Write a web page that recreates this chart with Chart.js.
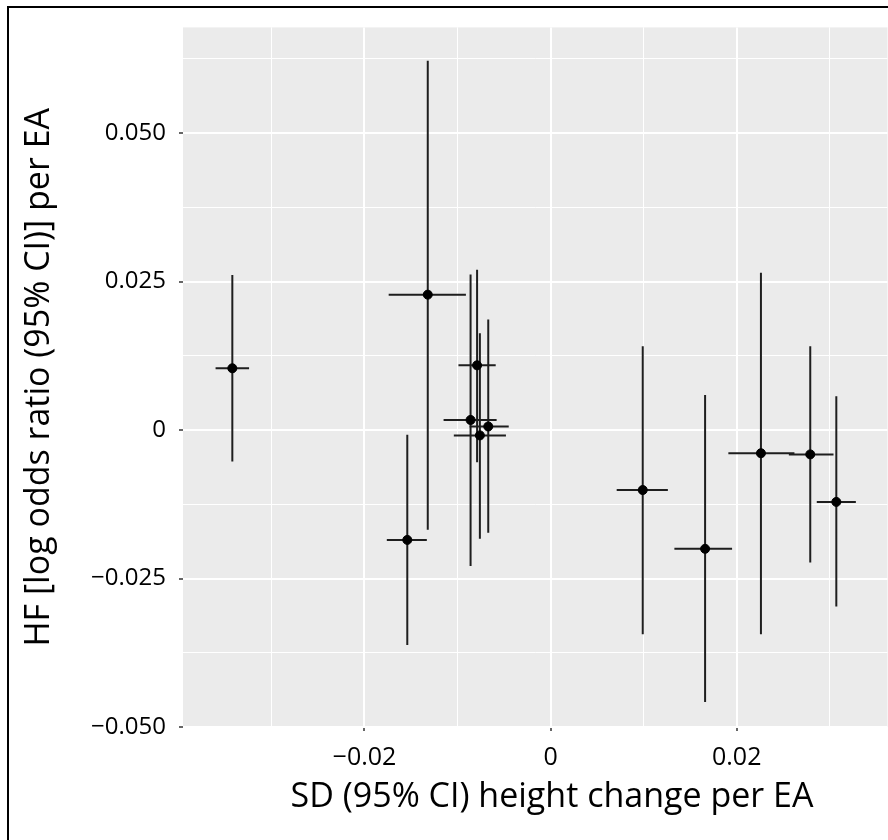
<!DOCTYPE html>
<html>
<head>
<meta charset="utf-8">
<script src="https://cdn.jsdelivr.net/npm/chart.js@4"></script>
<style>
  html, body { margin: 0; padding: 0; background: #fff; overflow: hidden; }
  #frame { position: absolute; left: 7px; top: 6px; width: 900px; height: 900px;
           border-left: 2px solid #000; border-top: 2px solid #000; }
  #wrap { position: absolute; left: 0; top: 0; width: 893px; height: 840px; }
</style>
</head>
<body>
<div id="frame"></div>
<div id="wrap"><canvas id="chart"></canvas></div>
<script>
// -------------------- data ----------------------
var xEst = [-0.0342, -0.0132, -0.0154, -0.0079, -0.0086, -0.0067, -0.0076, 0.0099, 0.0166, 0.0226, 0.0279, 0.0307];
var xLo  = [-0.0360, -0.0174, -0.0176, -0.0099, -0.0115, -0.0087, -0.0104, 0.0071, 0.0133, 0.0191, 0.0256, 0.0286];
var xHi  = [-0.0324, -0.0091, -0.0133, -0.0059, -0.0058, -0.0045, -0.0048, 0.0126, 0.0195, 0.0262, 0.0304, 0.0328];
var yEst = [0.0104, 0.0228, -0.0185, 0.0109, 0.0017, 0.0006, -0.0009, -0.0101, -0.0200, -0.0039, -0.0041, -0.0121];
var yLo  = [-0.0053, -0.0168, -0.0362, -0.0054, -0.0229, -0.0173, -0.0183, -0.0344, -0.0458, -0.0344, -0.0223, -0.0297];
var yHi  = [0.0261, 0.0622, -0.0008, 0.0270, 0.0262, 0.0186, 0.0163, 0.0141, 0.0059, 0.0265, 0.0141, 0.0057];

var xTicks = [-0.03, -0.02, -0.01, 0, 0.01, 0.02, 0.03];
var xTickLabels = ['', '\u22120.02', '', '0', '', '0.02', ''];
var yTicks = [-0.05, -0.0375, -0.025, -0.0125, 0, 0.0125, 0.025, 0.0375, 0.05, 0.0625];
var yTickLabels = ['\u22120.050', '', '\u22120.025', '', '0', '', '0.025', '', '0.050', ''];

var xTitle = 'SD (95% CI) height change per EA';
var yTitle = 'HF [log odds ratio (95% CI)] per EA';

// segments, broken by null points
var vBars = [], hBars = [], points = [];
for (var i = 0; i < xEst.length; i++) {
    vBars.push({x: xEst[i], y: yLo[i]}, {x: xEst[i], y: yHi[i]}, {x: xEst[i], y: null});
    hBars.push({x: xLo[i], y: yEst[i]}, {x: xHi[i], y: yEst[i]}, {x: xHi[i], y: null});
    points.push({x: xEst[i], y: yEst[i]});
}

var panelBg = {
    id: 'panelBg',
    beforeDraw: function (chart) {
        var a = chart.chartArea, c = chart.ctx;
        c.save();
        c.fillStyle = '#EBEBEB';
        c.fillRect(a.left, a.top, a.right - a.left, a.bottom - a.top);
        c.restore();
    },
    afterDraw: function (chart) {
        // x title, a bit right of the panel centre like the original
        var c = chart.ctx;
        c.save();
        c.font = '34px "Open Sans"';
        c.fillStyle = '#000';
        c.textAlign = 'center';
        c.textBaseline = 'middle';
        c.fillText(xTitle, 552, 797);
        c.restore();
    }
};

function gridOpts(labels) {
    return {
        color: '#FFFFFF',
        lineWidth: function (c) { return labels[c.index] ? 2 : 1; },
        tickColor: function (c) { return labels[c.index] ? '#333333' : 'rgba(0,0,0,0)'; },
        tickWidth: 1.5,
        tickLength: 4,
        drawTicks: true
    };
}

var ctx = document.getElementById('chart');
var chart = new Chart(ctx, {
    type: 'scatter',
    data: {
        datasets: [{
            data: vBars,
            showLine: true,
            spanGaps: false,
            borderColor: '#1e1e1e',
            borderWidth: 2,
            pointRadius: 0,
            order: 2
        }, {
            data: hBars,
            showLine: true,
            spanGaps: false,
            borderColor: '#1e1e1e',
            borderWidth: 2,
            pointRadius: 0,
            order: 1
        }, {
            data: points,
            backgroundColor: '#000000',
            borderColor: '#000000',
            pointRadius: 4.5,
            order: 0
        }]
    },
    options: {
        responsive: true,
        maintainAspectRatio: false,
        animation: false,
        layout: { padding: { top: 26, right: 1, left: 0, bottom: 0 } },
        plugins: { legend: { display: false }, tooltip: { enabled: false } },
        scales: {
            x: {
                type: 'linear',
                min: -0.0395,
                max: 0.0362,
                afterBuildTicks: function (s) { s.ticks = xTicks.map(function (v) { return {value: v}; }); },
                afterFit: function (s) { s.height = 113; },
                grid: gridOpts(xTickLabels),
                border: { display: false },
                ticks: {
                    autoSkip: false,
                    maxRotation: 0,
                    padding: 12,
                    color: '#000',
                    font: { family: 'Open Sans', size: 25 },
                    callback: function (v, i) { return xTickLabels[i]; }
                }
            },
            y: {
                type: 'linear',
                min: -0.05,
                max: 0.0678,
                afterBuildTicks: function (s) { s.ticks = yTicks.map(function (v) { return {value: v}; }); },
                afterFit: function (s) { s.width = 183; },
                grid: gridOpts(yTickLabels),
                border: { display: false },
                ticks: {
                    autoSkip: false,
                    padding: 13,
                    color: '#000',
                    font: { family: 'Open Sans', size: 24 },
                    callback: function (v, i) { return yTickLabels[i]; }
                },
                title: {
                    display: true,
                    text: yTitle,
                    color: '#000',
                    font: { family: 'Open Sans', size: 34 },
                    padding: { top: 19, bottom: 0 }
                }
            }
        }
    },
    plugins: [panelBg]
});
</script>
</body>
</html>
